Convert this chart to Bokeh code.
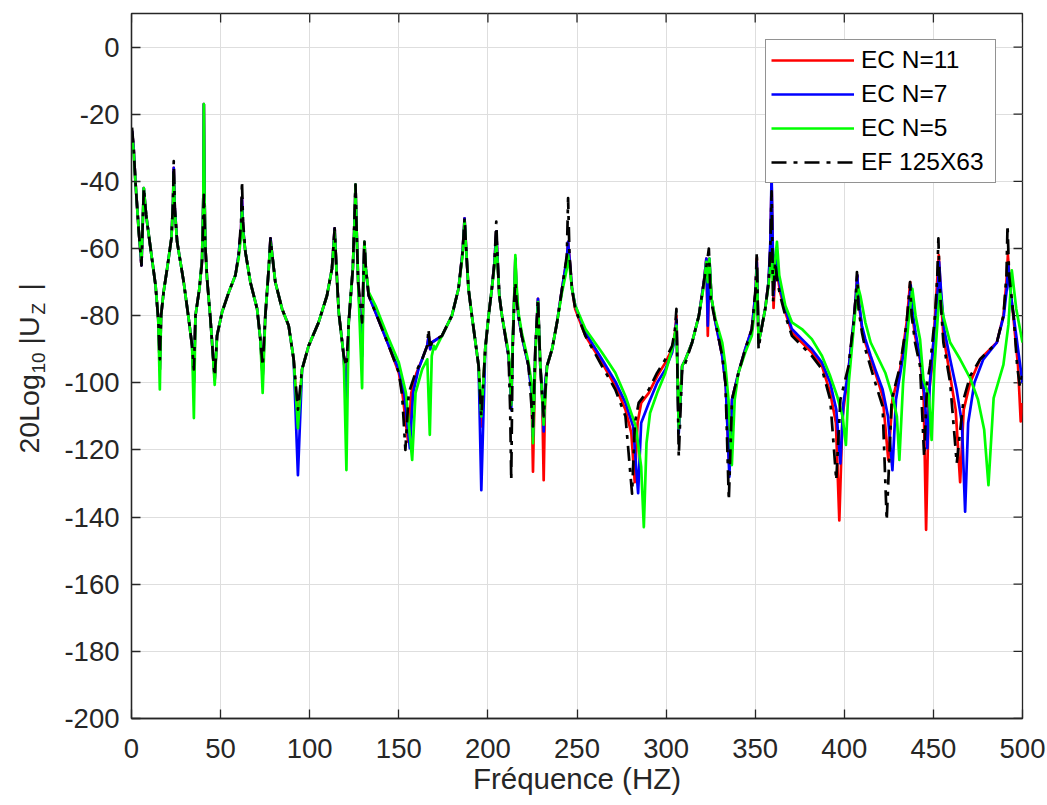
import math
from bokeh.plotting import figure
from bokeh.layouts import row
from bokeh.models import (Range1d, FixedTicker, Legend, LegendItem)
from bokeh.core.properties import value
from bokeh.embed import file_html
from bokeh.resources import INLINE

# ---------------- data ----------------
x_ticks = [0, 50, 100, 150, 200, 250, 300, 350, 400, 450, 500]
y_ticks = [-200, -180, -160, -140, -120, -100, -80, -60, -40, -20, 0]
legend_labels = ["EC N=11", "EC N=7", "EC N=5", "EF 125X63"]

# EF 125X63 (black dash-dot)
freq_ef = [0.3, 1.2, 2.2, 4.1, 5.6, 6.9, 8.2, 10.7, 13.5, 15.0, 15.9, 16.6, 18.0, 20.0, 22.4, 23.3, 23.7, 24.3,
           25.6, 29.3, 32.1, 34.0, 35.0, 35.9, 38.1, 39.6, 40.6, 41.3, 42.4, 44.3, 45.6, 46.7, 48.0, 50.8, 54.6,
           58.3, 60.1, 61.5, 62.0, 62.6, 63.9, 66.7, 70.5, 72.3, 73.6, 75.1, 77.0, 78.0, 79.0, 80.7, 84.5, 88.2,
           91.0, 93.4, 95.7, 99.4, 105.0, 109.7, 112.5, 114.0, 115.0, 116.3, 119.1, 120.6, 121.9, 124.2, 125.7,
           126.5, 127.2, 129.4, 130.7, 131.5, 133.1, 136.9, 144.4, 150.0, 151.9, 153.7, 155.6, 159.4, 163.1,
           165.9, 166.7, 167.5, 168.5, 174.2, 179.8, 183.5, 185.8, 186.9, 188.0, 189.1, 191.0, 194.8, 196.3,
           198.5, 200.4, 202.2, 203.7, 204.7, 205.5, 206.4, 207.9, 211.6, 212.5, 213.1, 213.9, 214.9, 215.4,
           216.0, 217.1, 219.0, 222.8, 225.3, 226.6, 228.1, 229.4, 231.3, 233.2, 236.0, 238.8, 241.6, 244.3,
           245.0, 245.8, 247.2, 249.0, 254.7, 264.0, 271.5, 277.2, 280.9, 282.5, 284.6, 290.3, 295.0, 299.6,
           303.4, 305.0, 305.8, 307.1, 309.0, 310.9, 314.6, 318.4, 321.2, 323.0, 324.0, 325.0, 327.7, 331.5,
           333.3, 335.2, 337.0, 340.6, 344.4, 348.1, 350.2, 350.9, 351.9, 353.5, 355.6, 357.5, 358.5, 359.2,
           360.0, 361.2, 362.5, 364.0, 366.9, 370.6, 376.2, 381.8, 387.5, 392.1, 395.5, 397.8, 402.4, 405.2,
           406.5, 407.1, 408.0, 409.9, 411.8, 417.4, 421.5, 423.8, 426.6, 431.3, 435.0, 436.9, 437.8, 439.7,
           442.5, 444.8, 446.5, 448.1, 450.9, 452.2, 452.8, 453.6, 455.6, 459.4, 463.1, 466.9, 470.6, 476.2,
           485.6, 489.3, 491.0, 491.6, 492.5, 495.0, 497.0, 498.5, 500.0]
db_ef = [-24, -30, -40, -55, -65, -42, -50, -60, -71, -81, -93, -80, -73, -66, -57, -46, -34, -48,
         -58, -70, -81, -89, -96, -80, -72, -64, -44, -58, -69, -81, -91, -98, -86, -79, -73,
         -68, -62, -52, -40, -52, -61, -70, -78, -87, -95, -80, -66, -57, -62, -70, -78, -83,
         -93, -108, -96, -89, -82, -74, -66, -54, -66, -79, -92, -95, -82, -66, -41,
         -58, -70, -82, -58, -66, -74, -79, -89, -97, -104, -120, -103, -97, -93,
         -89, -84, -90, -88, -86, -80, -72, -61, -51, -62, -72, -80, -95, -110,
         -90, -80, -72, -64, -52, -64, -74, -80, -92, -108, -129, -90, -74, -70,
         -75, -80, -86, -95, -113, -90, -75, -95, -110, -95, -90, -82, -72, -62,
         -45, -62, -72, -78, -86, -95, -102, -110, -133, -112, -106, -102, -97, -93,
         -89, -84, -78, -122, -96, -94, -88, -80, -70, -64, -60, -75, -82, -92,
         -100, -135, -105, -97, -90, -84, -72, -61, -90, -84, -78, -70, -60, -43,
         -76, -64, -70, -74, -80, -86, -89, -92, -96, -105, -129, -105, -95, -82,
         -74, -67, -78, -85, -90, -100, -107, -141, -105, -95, -82, -70, -80, -88,
         -95, -122, -100, -95, -80, -68, -57, -72, -88, -100, -124, -105, -98, -93,
         -88, -80, -68, -53, -68, -80, -95, -101, -97]

# EC N=11 (red)
freq_n11 = [0.3, 1.2, 2.2, 4.1, 5.6, 6.9, 8.2, 10.7, 13.5, 15.0, 15.9, 16.6, 18.0, 20.0, 22.4, 23.3, 23.7, 24.3,
            25.6, 29.3, 32.1, 34.0, 35.0, 35.9, 38.1, 39.6, 40.3, 40.6, 41.0, 41.5, 42.4, 44.3, 45.6, 46.7, 48.0,
            50.8, 54.6, 58.3, 60.1, 61.5, 62.0, 62.6, 63.9, 66.7, 70.5, 72.3, 73.6, 75.1, 77.0, 78.0, 79.0, 80.7,
            84.5, 88.2, 91.0, 93.4, 95.7, 99.4, 105.0, 109.7, 112.5, 114.0, 115.0, 116.3, 119.1, 120.6, 121.9,
            124.2, 125.3, 125.7, 126.2, 127.2, 129.4, 130.2, 130.7, 131.5, 133.1, 136.9, 144.4, 150.0, 152.0,
            155.2, 157.0, 160.0, 163.1, 165.9, 166.8, 167.6, 168.5, 174.2, 179.8, 183.5, 185.8, 186.9, 188.0,
            189.1, 191.0, 194.8, 196.3, 198.5, 200.4, 202.2, 203.7, 204.7, 205.5, 206.4, 207.9, 211.6, 212.5,
            213.1, 213.9, 214.9, 215.4, 216.0, 217.1, 219.0, 222.8, 224.5, 225.3, 226.6, 228.1, 229.4, 230.5,
            231.3, 232.2, 233.2, 236.0, 238.8, 241.6, 244.3, 245.0, 245.8, 247.2, 249.0, 254.7, 264.0, 271.5,
            277.2, 280.5, 282.4, 284.0, 286.0, 290.3, 295.0, 299.6, 303.4, 305.0, 305.8, 307.1, 309.0, 310.9,
            314.6, 318.4, 321.2, 322.6, 323.4, 324.3, 325.5, 327.7, 331.5, 333.5, 335.3, 337.0, 340.6, 344.4,
            348.1, 350.2, 350.9, 351.9, 353.5, 355.6, 357.5, 358.5, 359.2, 360.3, 361.5, 362.5, 364.0, 366.9,
            370.6, 376.2, 381.8, 387.5, 392.1, 395.3, 397.2, 399.0, 402.4, 405.2, 406.5, 407.3, 408.2, 409.9,
            411.8, 414.8, 417.4, 421.5, 424.7, 427.0, 431.3, 435.0, 437.0, 438.0, 439.7, 442.5, 444.5, 445.9,
            447.5, 449.0, 451.0, 452.2, 453.0, 454.0, 455.6, 459.4, 462.5, 465.0, 467.0, 470.6, 476.2, 485.6,
            489.3, 491.0, 491.8, 492.8, 495.0, 497.5, 499.0, 500.0]
db_n11 = [-25, -30, -40, -55, -65, -42, -50, -60, -71, -81, -96, -80, -73, -66, -57, -46, -36, -48,
          -58, -70, -81, -89, -100, -80, -72, -63, -45, -17, -45, -60, -69, -81, -91, -99, -86,
          -79, -73, -68, -62, -54, -45, -54, -61, -70, -78, -87, -98, -80, -66, -57, -62, -70,
          -78, -83, -93, -113, -96, -89, -82, -74, -66, -54, -66, -79, -92, -105, -82,
          -66, -50, -41, -52, -70, -90, -68, -58, -66, -74, -79, -89, -97, -103,
          -117.5, -103, -97, -93, -89, -86, -90, -88, -86, -80, -72, -61, -51, -62,
          -72, -80, -95, -113, -90, -80, -72, -64, -55, -64, -74, -80, -92, -99,
          -106, -89, -73, -63, -72, -80, -86, -95, -102, -126.5, -91, -75, -95, -105,
          -129, -100, -95, -90, -82, -72, -63, -58, -63, -72, -78, -86, -94, -101,
          -108, -115, -129.6, -112, -106, -103, -98, -94, -90, -85, -80, -114, -95, -93,
          -88, -80, -70, -63, -86, -64, -75, -82, -92, -101, -124, -105, -97, -90,
          -84, -73, -63, -88, -84, -78, -70, -60, -40, -77.7, -62, -68, -73, -79,
          -85, -88, -91, -95, -103, -112, -141, -110, -96, -82, -74, -68, -76, -84,
          -88, -93, -97, -104, -123, -105, -96, -82, -70, -79, -86, -93, -103, -143.8,
          -103, -96, -80, -69, -62, -72, -86, -98, -108, -129.6, -108, -100, -93, -88,
          -80, -70, -62, -70, -81, -95, -111.5, -106]

# EC N=7 (blue)
freq_n7 = [0.3, 1.2, 2.2, 4.1, 5.6, 6.9, 8.2, 10.7, 13.5, 15.0, 15.9, 16.6, 18.0, 20.0, 22.4, 23.3, 23.7, 24.3,
           25.6, 29.3, 32.1, 34.0, 35.0, 35.9, 38.1, 39.6, 40.3, 40.6, 41.0, 41.5, 42.4, 44.3, 45.6, 46.7, 48.0,
           50.8, 54.6, 58.3, 60.1, 61.5, 62.0, 62.6, 63.9, 66.7, 70.5, 72.3, 73.6, 75.1, 77.0, 78.0, 79.0, 80.7,
           84.5, 88.2, 91.0, 93.4, 95.7, 99.4, 105.0, 109.7, 112.5, 114.0, 115.0, 116.3, 119.1, 120.6, 121.9,
           124.2, 125.3, 125.7, 126.2, 127.2, 129.4, 130.2, 130.7, 131.5, 133.1, 136.9, 144.4, 150.0, 153.0,
           156.2, 158.0, 161.0, 163.1, 165.9, 166.8, 167.6, 168.5, 174.2, 179.8, 183.5, 185.8, 186.9, 188.0,
           189.1, 191.0, 194.8, 196.3, 198.5, 200.4, 202.2, 203.7, 204.7, 205.5, 206.4, 207.9, 211.6, 212.5,
           213.1, 213.9, 214.9, 215.4, 216.0, 217.1, 219.0, 222.8, 224.5, 225.3, 226.6, 228.1, 229.4, 230.5,
           231.3, 232.2, 233.2, 236.0, 238.8, 241.6, 244.3, 245.0, 245.8, 247.2, 249.0, 254.7, 264.0, 271.5,
           277.2, 281.5, 284.3, 286.0, 290.3, 295.0, 299.6, 303.4, 305.0, 305.8, 307.1, 309.0, 310.9, 314.6,
           318.4, 321.2, 322.6, 323.4, 324.3, 325.5, 327.7, 331.5, 333.5, 335.5, 337.0, 340.6, 344.4, 348.1,
           350.2, 350.9, 351.9, 353.5, 355.6, 357.5, 358.5, 359.2, 360.3, 361.8, 363.0, 364.5, 366.9, 370.6,
           376.2, 381.8, 387.5, 392.1, 395.5, 397.8, 399.5, 402.4, 405.2, 406.5, 407.3, 408.2, 409.9, 411.8,
           414.8, 417.4, 421.5, 424.5, 427.0, 429.0, 433.0, 435.5, 437.3, 438.3, 440.0, 443.0, 445.3, 446.6,
           448.0, 451.0, 452.5, 453.2, 454.2, 456.0, 459.4, 463.0, 466.0, 467.8, 469.5, 473.0, 478.0, 485.6,
           489.5, 491.2, 492.0, 493.0, 495.5, 498.0, 500.0]
db_n7 = [-25, -30, -40, -55, -65, -42, -50, -60, -71, -81, -96, -80, -73, -66, -57, -46, -36, -48,
         -58, -70, -81, -89, -100, -80, -72, -63, -45, -17, -45, -60, -69, -81, -91, -99, -86,
         -79, -73, -68, -62, -54, -45, -54, -61, -70, -78, -87, -98, -80, -66, -57, -62, -70,
         -78, -83, -93, -127.5, -96, -89, -82, -74, -66, -54, -66, -79, -92, -108, -82,
         -66, -50, -41, -52, -70, -92, -68, -58, -66, -74, -79, -89, -96, -103,
         -119.5, -103, -96, -93, -89, -86, -90, -88, -86, -80, -72, -61, -51, -62,
         -72, -80, -95, -132, -90, -80, -72, -64, -55, -64, -74, -80, -92, -99,
         -108, -89, -73, -63, -72, -80, -86, -95, -103, -116, -91, -75, -95, -104,
         -114.5, -100, -95, -90, -82, -72, -63, -58, -63, -72, -77, -85, -93, -99.6,
         -106, -113, -132.9, -112, -106, -100, -96, -91, -86, -81, -115, -95, -93, -88,
         -80, -70, -63, -83, -63, -75, -82, -92, -101, -128, -105, -97, -90, -84,
         -73, -64, -88, -84, -78, -70, -58, -38, -74, -60, -68, -73, -78, -84,
         -87, -90, -94, -100, -108, -124, -106, -96, -82, -74, -68, -76, -83, -87,
         -92, -96, -102, -110, -126, -105, -92, -82, -71, -79, -85, -94, -105, -119.5,
         -100, -82, -72, -64, -72, -84, -93, -102, -112, -138.4, -112, -100, -93, -88,
         -80, -72, -64.5, -72, -82, -92, -100]

# EC N=5 (green)
freq_n5 = [0.3, 1.2, 2.2, 4.1, 5.6, 6.9, 8.2, 10.7, 13.5, 15.0, 15.9, 16.6, 18.0, 20.0, 22.4, 23.3, 23.7, 24.3,
           25.6, 29.3, 32.1, 34.0, 35.0, 35.9, 38.1, 39.6, 40.3, 40.6, 41.0, 41.5, 42.4, 44.3, 45.6, 46.7, 48.0,
           50.8, 54.6, 58.3, 60.1, 61.5, 62.0, 62.6, 63.9, 66.7, 70.5, 72.3, 73.6, 75.1, 77.0, 78.0, 79.0, 80.7,
           84.5, 88.2, 91.0, 93.4, 95.7, 99.4, 105.0, 109.7, 112.5, 114.0, 115.0, 116.3, 119.1, 120.6, 121.9,
           124.2, 125.3, 125.7, 126.2, 127.2, 129.4, 130.2, 130.7, 131.5, 133.1, 136.9, 144.4, 150.0, 154.0,
           157.5, 159.4, 163.1, 166.0, 167.4, 168.5, 169.7, 170.5, 174.2, 179.8, 183.5, 185.8, 186.9, 188.0,
           189.1, 191.0, 194.8, 196.3, 198.5, 200.4, 202.2, 203.7, 204.7, 205.5, 206.4, 207.9, 211.6, 212.5,
           213.1, 213.9, 214.9, 215.4, 216.0, 217.1, 219.0, 222.8, 224.5, 225.3, 226.6, 228.1, 229.4, 231.3,
           233.2, 236.0, 238.8, 241.6, 244.3, 245.0, 245.8, 247.2, 249.0, 254.7, 264.0, 271.5, 277.2, 283.0,
           286.0, 287.5, 289.0, 291.0, 295.0, 299.6, 303.4, 305.8, 307.1, 309.0, 310.9, 314.6, 318.4, 321.2,
           322.6, 323.4, 324.3, 325.5, 327.7, 331.5, 333.3, 335.0, 336.9, 338.5, 340.6, 344.4, 348.1, 350.2,
           350.9, 351.9, 353.5, 355.6, 357.5, 359.0, 360.0, 361.5, 362.2, 363.5, 366.9, 370.6, 376.2, 381.8,
           387.5, 392.1, 396.0, 399.0, 400.9, 402.5, 405.2, 407.5, 409.0, 411.8, 414.8, 423.0, 427.0, 429.5,
           430.9, 433.0, 436.0, 438.2, 440.0, 442.5, 444.4, 447.5, 449.0, 450.5, 452.5, 453.7, 455.5, 459.4,
           465.0, 470.6, 475.0, 478.5, 480.9, 483.8, 489.3, 492.1, 494.0, 496.5, 500.0]
db_n5 = [-26, -31, -40, -55, -64, -42, -50, -60, -71, -81, -102, -80, -73, -66, -57, -47, -38, -49,
         -58, -70, -81, -89, -110.5, -80, -72, -63, -45, -17, -45, -60, -69, -81, -91, -100.6, -86,
         -79, -73, -68, -63, -56, -48, -55, -61, -70, -78, -87, -103, -80, -66, -58, -62, -70,
         -78, -83, -93, -113.5, -96, -89, -82, -74, -66, -55, -66, -79, -92, -126, -82,
         -66, -50, -41, -52, -70, -101.6, -70, -58, -66, -73, -77, -87, -94, -103,
         -123, -103, -96, -93, -115.5, -92, -89, -90, -86, -80, -72, -62, -52, -62,
         -72, -80, -95, -110, -90, -80, -72, -65, -58, -65, -74, -80, -91, -98,
         -106.6, -88, -72, -62, -70, -79, -85, -94, -100, -118, -92, -76, -94, -112.5,
         -95, -90, -82, -73, -66, -62, -65, -72, -77, -84, -91, -97, -104, -113,
         -125, -143, -118, -109, -103, -97, -90, -83, -113.5, -95, -93, -88, -80, -71,
         -64, -70, -63, -75, -81, -88, -95, -105, -124.5, -105, -97, -91, -86, -76,
         -66, -88, -84, -78, -71, -62, -70, -62, -58, -68, -77, -82, -84, -87,
         -92, -98, -104, -110, -118.5, -100, -84, -71, -74, -82, -88, -97, -104, -110,
         -123, -100, -82, -72, -80, -87, -99, -104, -117, -96, -80, -73, -80, -88,
         -93, -98.6, -105, -114, -130.5, -104.6, -94.6, -82.7, -66.5, -78, -88]

# ---------------- styling ----------------
FONT = "Liberation Sans"
AX = "#262626"
W, H = 1047, 805
LEFT_W = 56          # narrow panel holding the y-axis title
FR_TOP, FR_BOT = 13, 718   # frame edges (page pixels)
X0, X1, Y0, Y1 = 0, 500, -200, 10
TICK_PX = 9

# ---------------- main plot ----------------
p = figure(width=W - LEFT_W, height=H, output_backend="svg", toolbar_location=None,
           x_range=Range1d(X0, X1), y_range=Range1d(Y0, Y1),
           min_border_left=131 - LEFT_W, min_border_right=25, min_border_top=FR_TOP,
           min_border_bottom=H - FR_BOT,
           background_fill_color="white", border_fill_color="white")
p.outline_line_color = AX
p.outline_line_width = 1.3

for ax, ticks in ((p.xaxis[0], x_ticks), (p.yaxis[0], y_ticks)):
    ax.ticker = FixedTicker(ticks=ticks)
    ax.major_tick_in = TICK_PX
    ax.major_tick_out = 0
    ax.minor_tick_line_color = None
    ax.axis_line_color = AX
    ax.axis_line_width = 1.3
    ax.major_tick_line_color = AX
    ax.major_tick_line_width = 1.3
    ax.major_label_text_font = FONT
    ax.major_label_text_font_size = "27.5px"
    ax.major_label_text_color = AX

p.yaxis[0].major_label_overrides = {t: str(t) for t in y_ticks}
p.xaxis[0].major_label_standoff = 20
p.yaxis[0].major_label_standoff = 12
p.xaxis[0].axis_label = "Fréquence (HZ)"
p.xaxis[0].axis_label_text_font = FONT
p.xaxis[0].axis_label_text_font_size = "29.5px"
p.xaxis[0].axis_label_text_font_style = "normal"
p.xaxis[0].axis_label_text_color = AX
p.xaxis[0].axis_label_standoff = 1

p.xgrid.ticker = FixedTicker(ticks=x_ticks)
p.ygrid.ticker = FixedTicker(ticks=y_ticks)
p.grid.grid_line_color = "#dedede"
p.grid.grid_line_width = 1

# inward ticks on the top and right edges of the box (matlab style)
frame_w_px = (W - 25) - 131
frame_h_px = FR_BOT - FR_TOP
dy_tick = TICK_PX * (Y1 - Y0) / frame_h_px
dx_tick = TICK_PX * (X1 - X0) / frame_w_px
p.segment(x0=x_ticks, y0=[Y1] * len(x_ticks), x1=x_ticks, y1=[Y1 - dy_tick] * len(x_ticks),
          line_color=AX, line_width=1.3)
p.segment(x0=[X1] * len(y_ticks), y0=y_ticks, x1=[X1 - dx_tick] * len(y_ticks), y1=y_ticks,
          line_color=AX, line_width=1.3)

r_red = p.line(freq_n11, db_n11, line_color="#ff0000", line_width=2.7, line_join="round")
r_blue = p.line(freq_n7, db_n7, line_color="#0000ff", line_width=2.7, line_join="round")
r_green = p.line(freq_n5, db_n5, line_color="#00ff00", line_width=2.7, line_join="round")
r_black = p.line(freq_ef, db_ef, line_color="black", line_width=2.7, line_dash="15 7 4 7",
                 line_join="round")

legend = Legend(items=[LegendItem(label=legend_labels[0], renderers=[r_red]),
                       LegendItem(label=legend_labels[1], renderers=[r_blue]),
                       LegendItem(label=legend_labels[2], renderers=[r_green]),
                       LegendItem(label=legend_labels[3], renderers=[r_black])],
                location=(634, 535), margin=0, padding=5, spacing=4,
                glyph_width=83, glyph_height=30, label_height=30, label_width=129,
                label_standoff=7, label_text_font=FONT, label_text_font_size="24.5px",
                label_text_color="black", border_line_color=AX, border_line_width=1.2,
                background_fill_color="white", background_fill_alpha=1.0)
p.add_layout(legend)

# ---------------- narrow left panel: y-axis title with subscripts ----------------
# its frame is aligned by the row layout with the main frame (FR_TOP..FR_BOT),
# so the y range is chosen to make y = H - page_pixel
q = figure(width=LEFT_W, height=H, output_backend="svg", toolbar_location=None,
           x_range=Range1d(0, LEFT_W), y_range=Range1d(H - FR_BOT, H - FR_TOP),
           x_axis_location=None, y_axis_location=None,
           min_border_left=0, min_border_right=0, min_border_top=FR_TOP,
           min_border_bottom=H - FR_BOT,
           background_fill_color="white", border_fill_color="white", outline_line_color=None)
q.grid.visible = False

ylab_main = ["20Log", "|U", "|"]
ylab_main_x = [28.5, 28.5, 28.5]
ylab_main_y = [H - 453, H - 344, H - 290]
ylab_sub = ["10", "Z"]
ylab_sub_x = [38.0, 38.0]
ylab_sub_y = [H - 373, H - 314]

q.text(x=ylab_main_x, y=ylab_main_y, text=ylab_main, angle=math.pi / 2,
       text_align="left", text_baseline="alphabetic", text_font=value(FONT),
       text_font_size="28.5px", text_color=AX)
q.text(x=ylab_sub_x, y=ylab_sub_y, text=ylab_sub, angle=math.pi / 2,
       text_align="left", text_baseline="alphabetic", text_font=value(FONT),
       text_font_size="19px", text_color=AX)

layout = row(q, p, spacing=0)
open("out.html", "w").write(file_html(layout, INLINE))
